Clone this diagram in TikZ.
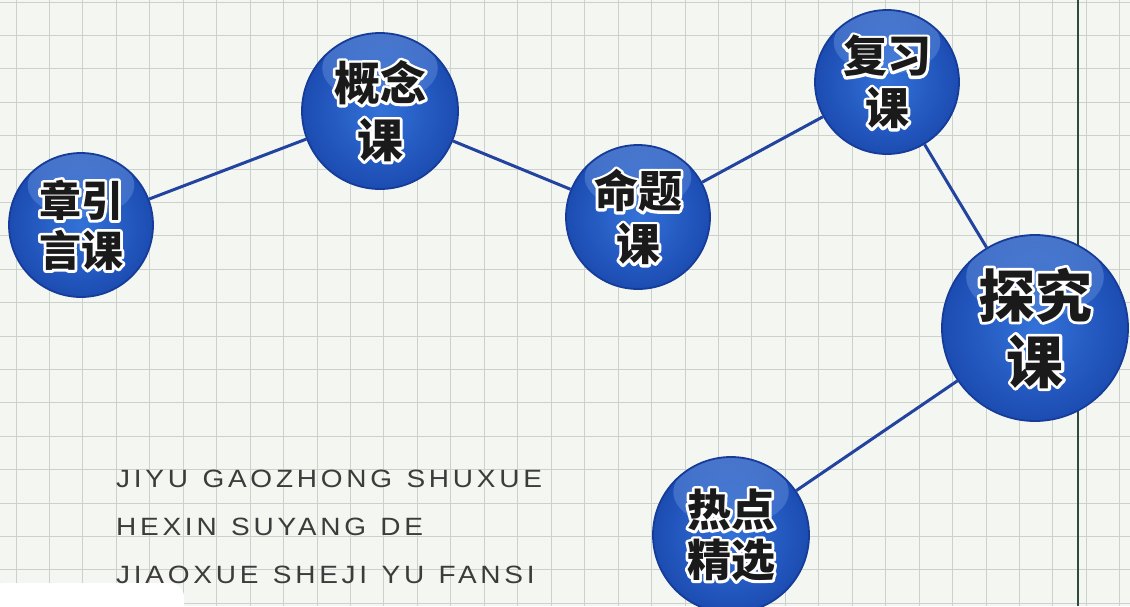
\documentclass[tikz,border=0pt]{standalone}
\usepackage{fontspec}
\usetikzlibrary{calc,fadings}

\newfontfamily\cjk{Noto Sans CJK SC}
\newfontfamily\pinyin[FakeStretch=1.12, LetterSpace=15, WordSpace=1.25]{Liberation Sans}

\definecolor{paper}{HTML}{F4F6F1}
\definecolor{gridc}{HTML}{CDD1CB}
\definecolor{rulec}{HTML}{2E4A3C}
\definecolor{linkc}{HTML}{2343A0}
\definecolor{rimc}{HTML}{163C9A}
\definecolor{ballin}{HTML}{3372D8}
\definecolor{ballout}{HTML}{1C4CB2}
\definecolor{hlc}{HTML}{7FA9EC}
\definecolor{txtc}{HTML}{1A1A1A}
\definecolor{pyc}{HTML}{3C3C3C}

% white outline under the glyphs: stroke-only text
\newcommand{\outl}[1]{\special{pdf:literal direct 1 Tr 5.5 w 1 j}#1\special{pdf:literal direct 0 Tr}}

\begin{document}
\begin{tikzpicture}[x=1pt, y=-1pt,
	gridline/.style={draw=gridc, line width=1pt},
	link/.style={draw=linkc, line width=3pt},
	ball/.style={circle, inner sep=0pt, minimum size=#1pt, draw=rimc, line width=1.8pt,
		inner color=ballin, outer color=ballout, text=white,
		path picture={\fill[hlc, path fading=south, fill opacity=.45]
			($(path picture bounding box.center)!.55!(path picture bounding box.north)$)
			ellipse [x radius={0.37*#1pt}, y radius={0.22*#1pt}];}},
	lbl/.style 2 args={align=center, font=\cjk\bfseries\fontsize{#1}{#2}\selectfont},
	pytext/.style={text=pyc, inner sep=0pt, anchor=base west, font=\pinyin\fontsize{25}{30}\selectfont}]
	\useasboundingbox (0,0) rectangle (1130,606);

	% paper and grid
	\fill[paper] (0,0) rectangle (1130,606);
	\foreach \i in {0,...,33}
		\draw[gridline] ({16+33.45*\i},0) -- ({16+33.45*\i},606);
	\foreach \j in {0,...,18}
		\draw[gridline] (0,{2+33.4*\j}) -- (1130,{2+33.4*\j});
	\draw[draw=rulec, line width=1.6pt] (1078,0) -- (1078,606);
	\fill[white, rounded corners=14pt] (-10,583) -- (184,583) -- (184,640) -- (-10,640) -- cycle;

	% pinyin title
	\node (py1) [pytext] at (116,487) {JIYU GAOZHONG SHUXUE};
	\node (py2) [pytext] at (116,535) {HEXIN SUYANG DE};
	\node (py3) [pytext] at (116,583) {JIAOXUE SHEJI YU FANSI};

	% balls: outline text in the ball, black text as centre label
	\node (zyk) [ball=144, lbl={42}{50}, label={[lbl={42}{50}, text=txtc]center:章引\\言课}]
		at (81,225) {\outl{章引}\\\outl{言课}};
	\node (gnk) [ball=156, lbl={46}{57}, label={[lbl={46}{57}, text=txtc]center:概念\\课}]
		at (380,111) {\outl{概念}\\\outl{课}};
	\node (mtk) [ball=144, lbl={44}{53}, label={[lbl={44}{53}, text=txtc]center:命题\\课}]
		at (638,217) {\outl{命题}\\\outl{课}};
	\node (fxk) [ball=144, lbl={44}{52}, label={[lbl={44}{52}, text=txtc]center:复习\\课}]
		at (887,82) {\outl{复习}\\\outl{课}};
	\node (tjk) [ball=186, lbl={57}{66}, label={[lbl={57}{66}, text=txtc]center:探究\\课}]
		at (1035,328) {\outl{探究}\\\outl{课}};
	\node (rdjx) [ball=156, lbl={44}{50}, label={[lbl={44}{50}, text=txtc]center:热点\\精选}]
		at (731,535) {\outl{热点}\\\outl{精选}};

	\draw [link] (zyk) -- (gnk);
	\draw [link] (gnk) -- (mtk);
	\draw [link] (mtk) -- (fxk);
	\draw [link] (fxk) -- (tjk);
	\draw [link] (tjk) -- (rdjx);
\end{tikzpicture}
\end{document}
